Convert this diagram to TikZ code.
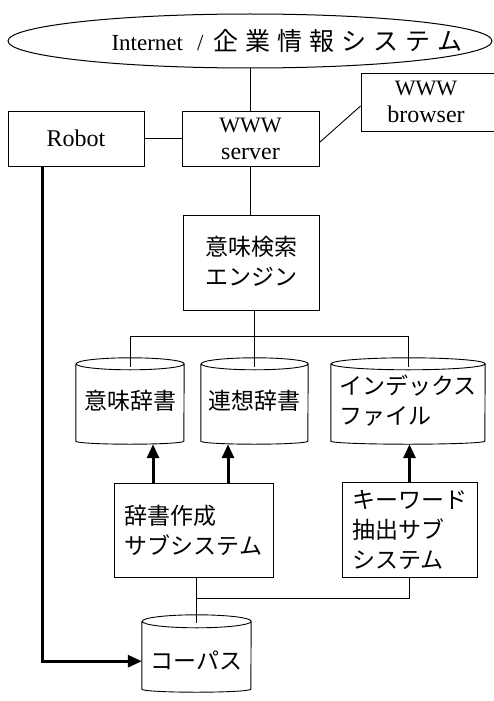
\documentclass[tikz,border=0pt]{standalone}
\usepackage{fontspec}
\setmainfont{Liberation Serif}
\newfontfamily\jp{Noto Sans CJK JP}
\usetikzlibrary{arrows.meta,shapes.geometric}
\newcommand\cylout[3]{%
  \draw[line width=0.9pt] ([yshift=-#3pt]#1.north west) -- ([yshift=3pt]#1.south west)
    arc[start angle=180,end angle=360,x radius=#2pt,y radius=3pt]
    -- ([yshift=-#3pt]#1.north east)
    arc[start angle=0,end angle=180,x radius=#2pt,y radius=#3pt]
    arc[start angle=180,end angle=360,x radius=#2pt,y radius=#3pt];}
\begin{document}
\begin{tikzpicture}[x=1pt,y=1pt,
  box/.style={draw,line width=0.9pt,rectangle,inner sep=0pt},
  cylnode/.style={rectangle,inner sep=0pt},
  lat/.style={font=\fontsize{24}{27}\selectfont,align=center},
  jtext/.style={font=\jp\fontsize{23}{30}\selectfont},
  conn/.style={line width=0.9pt},
  heavy/.style={line width=3pt,-{Triangle[length=14pt,width=12pt]}}]
\useasboundingbox (0,0) rectangle (493,-701);
\fill[white] (0,0) rectangle (493,-701);

% top ellipse
\node[ellipse,draw,line width=1pt,minimum width=484,minimum height=54,inner sep=0pt,
  label={[xshift=37pt]center:{\fontsize{23}{26}\selectfont Internet\hspace{14pt}/\hspace{10pt}{\jp\fontsize{25}{30}\selectfont 企\kern7pt 業\kern7pt 情\kern7pt 報\kern7pt シ\kern7pt ス\kern7pt テ\kern7pt ム}}}]
  (inet) at (250,-41) {};

% upper boxes
\node[box,lat,minimum width=136,minimum height=55] (rob) at (76,-138.5) {Robot};
\node[box,lat,minimum width=137,minimum height=55] (srv) at (250.5,-138.5) {{\fontsize{22}{27}\selectfont WWW}\\server};
\node[box,lat,minimum width=136,minimum height=58] (brw) at (429,-102) {\hspace*{-6pt}{\fontsize{22}{27}\selectfont WWW}\\\hspace*{-6pt}browser};

% engine
\node[box,jtext,align=center,minimum width=136,minimum height=95] (eng) at (251,-262.5)
  {\raisebox{4pt}{意味検索}\\\raisebox{4pt}{エンジン}};

% cylinders
\node[cylnode,jtext,align=center,minimum width=108,minimum height=86] (c1) at (130,-401) {意味辞書};
\node[cylnode,jtext,align=center,minimum width=107,minimum height=86] (c2) at (254.5,-401) {連想辞書};
\node[cylnode,jtext,align=left,minimum width=154,minimum height=86] (c3) at (408,-401) {インデックス\\ファイル};
\node[cylnode,jtext,align=center,minimum width=109,minimum height=77] (corp) at (196.5,-653.5) {};
\node[jtext] (corptext) at (196.5,-660) {コーパス};
\cylout{c1}{54}{6}
\cylout{c2}{53.5}{6}
\cylout{c3}{77}{6}
\cylout{corp}{54.5}{6.5}

% subsystems
\node[box,jtext,align=left,minimum width=159,minimum height=94] (dic) at (193.5,-530) {辞書作成\\サブシステム};
\node[box,jtext,align=left,minimum width=135,minimum height=95] (kw) at (409.5,-529.5) {キーワード\\抽出サブ\\システム};

% coordinates
\coordinate (bus) at (0,-336);
\coordinate (bus2) at (0,-598);
\coordinate (c1t) at ([yshift=-9pt]c1.north);
\coordinate (c2t) at ([yshift=-9pt]c2.north);
\coordinate (c3t) at ([yshift=-9pt]c3.north);
\coordinate (corpt) at ([yshift=-8pt]corp.north);

% thin connectors
\draw[conn] (inet.south) -- (inet.south |- srv.north);
\draw[conn] (rob.east) -- (srv.west);
\draw[conn] ([yshift=-4pt]srv.east) -- ([yshift=-4pt]brw.west);
\draw[conn] (srv.south) -- (srv.south |- eng.north);
\draw[conn] (eng.south -| c2t) -- (c2t);
\draw[conn] (c1t) -- (c1t |- bus) -- (c3t |- bus) -- (c3t);
\draw[conn] (dic.south -| corpt) -- (corpt);
\draw[conn] (corpt |- bus2) -| (kw.south);

% heavy arrows
\draw[heavy] (dic.north -| 153,0) -- (c1.south -| 153,0);
\draw[heavy] (dic.north -| 228,0) -- (c2.south -| 228,0);
\draw[heavy] (kw.north) -- (kw.north |- c3.south);
\draw[heavy] (rob.south -| 42,0) |- ([yshift=31pt]corp.south west);
\end{tikzpicture}
\end{document}
